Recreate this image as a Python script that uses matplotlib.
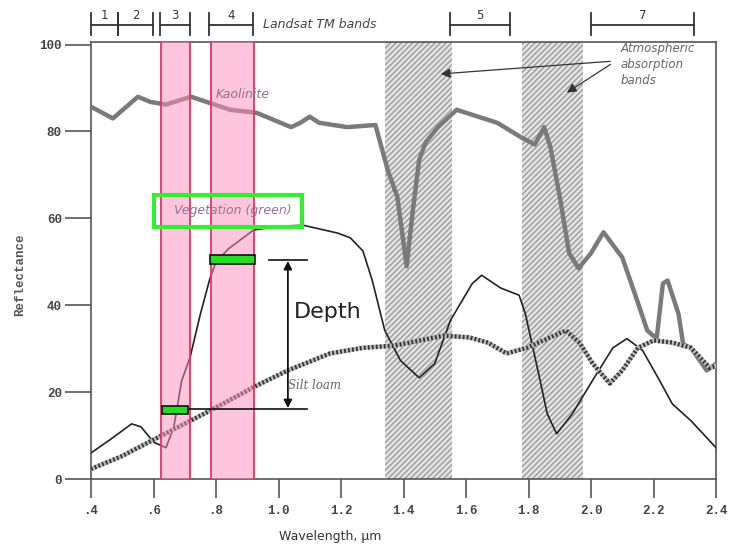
import matplotlib
matplotlib.use("Agg")
import matplotlib.pyplot as plt
from matplotlib.patches import Rectangle

# spectra (wavelength in um, reflectance in %)
kaol_x = [0.40, 0.47, 0.55, 0.59, 0.64, 0.72, 0.845, 0.93, 1.04, 1.07, 1.10, 1.13, 1.22, 1.31,
          1.35, 1.38, 1.395, 1.41, 1.43, 1.45, 1.47, 1.51, 1.57, 1.70, 1.78, 1.82, 1.85, 1.87,
          1.90, 1.93, 1.96, 2.00, 2.04, 2.10, 2.14, 2.18, 2.21, 2.23, 2.245, 2.28, 2.295,
          2.32, 2.37, 2.40]
kaol_y = [85.7, 83.0, 88.0, 86.8, 86.2, 88.0, 85.0, 84.3, 81.0, 82.0, 83.4, 82.0, 81.0, 81.5,
          71.0, 65.0, 57.0, 49.0, 62.0, 73.4, 77.4, 81.0, 85.0, 82.0, 78.5, 77.0, 81.0, 76.4,
          65.0, 52.0, 48.5, 52.0, 56.8, 51.0, 42.7, 34.2, 32.3, 45.0, 45.7, 38.0, 31.0,
          30.2, 25.0, 26.5]

veg_x = [0.40, 0.46, 0.53, 0.56, 0.60, 0.64, 0.665, 0.69, 0.717, 0.75, 0.78, 0.80, 0.84, 0.92,
         1.00, 1.08, 1.19, 1.23, 1.27, 1.30, 1.34, 1.39, 1.45, 1.50, 1.55, 1.62, 1.65, 1.71,
         1.77, 1.79, 1.83, 1.86, 1.89, 1.94, 2.01, 2.07, 2.115, 2.165, 2.22, 2.26, 2.32, 2.40]
veg_y = [6.0, 9.0, 12.7, 12.0, 8.5, 7.2, 12.0, 22.6, 28.0, 38.0, 46.0, 50.0, 53.0, 57.3,
         58.2, 58.4, 56.6, 55.5, 52.5, 45.7, 34.2, 27.3, 23.3, 26.6, 36.5, 45.0, 46.9, 44.0,
         42.3, 38.0, 25.0, 15.0, 10.4, 15.0, 23.3, 30.2, 32.3, 29.6, 22.6, 17.3, 13.4, 7.2]

silt_x = [0.40, 0.50, 0.58, 0.68, 0.78, 0.93, 1.03, 1.165, 1.27, 1.37, 1.53, 1.61, 1.67, 1.73,
          1.795, 1.86, 1.92, 1.965, 2.005, 2.06, 2.10, 2.15, 2.20, 2.26, 2.32, 2.38, 2.40]
silt_y = [2.3, 5.3, 8.3, 12.0, 15.7, 21.5, 25.0, 28.9, 30.2, 30.7, 33.0, 32.6, 31.4, 28.9,
          30.2, 32.3, 34.2, 31.2, 26.6, 22.0, 25.0, 30.2, 31.9, 31.4, 30.2, 25.6, 26.0]

# bands
tm_names = ["1", "2", "3", "4", "5", "7"]
tm_start = [0.40, 0.486, 0.62, 0.777, 1.55, 2.00]
tm_end = [0.486, 0.598, 0.717, 0.918, 1.74, 2.33]
pink_start = [0.624, 0.784]
pink_end = [0.717, 0.922]
atm_start = [1.34, 1.78]
atm_end = [1.555, 1.975]

xticks = [0.4, 0.6, 0.8, 1.0, 1.2, 1.4, 1.6, 1.8, 2.0, 2.2, 2.4]
xlabels = [".4", ".6", ".8", "1.0", "1.2", "1.4", "1.6", "1.8", "2.0", "2.2", "2.4"]
yticks = [0, 20, 40, 60, 80, 100]

fig = plt.figure(figsize=(7.34, 5.49), dpi=100)
ax = fig.add_axes([0.124, 0.1275, 0.8515, 0.796])
ax.set_xlim(0.4, 2.4)
ax.set_ylim(0, 100.6)

# atmospheric absorption (hatched)
for a, b in zip(atm_start, atm_end):
    ax.add_patch(Rectangle((a, 0), b - a, 100.6, facecolor="#e4e4e4", edgecolor="#9a9a9a",
                           hatch="//////", linewidth=0, zorder=1))

ax.plot(kaol_x, kaol_y, color="#7a7a7a", lw=3.2, zorder=3, solid_joinstyle="round")
ax.plot(veg_x, veg_y, color="#222222", lw=1.2, zorder=3)
ax.plot(silt_x, silt_y, color="#bbbbbb", lw=3.2, zorder=3)
ax.plot(silt_x, silt_y, color="#333333", lw=3.2, ls=(0, (0.4, 0.5)), zorder=3)

# TM bands 3 and 4 in pink, on top of the curves
for a, b in zip(pink_start, pink_end):
    ax.axvspan(a, b, facecolor="#ff8cbd", alpha=0.5, lw=0, zorder=4)
    ax.axvline(a, color="#e2336c", lw=1.3, zorder=4)
    ax.axvline(b, color="#e2336c", lw=1.3, zorder=4)

# depth markers
ax.add_patch(Rectangle((0.627, 15.0), 0.083, 1.7, facecolor="#22dd22", edgecolor="#111111",
                       lw=1.2, zorder=6))
ax.add_patch(Rectangle((0.78, 49.6), 0.145, 2.0, facecolor="#22dd22", edgecolor="#111111",
                       lw=1.2, zorder=6))
ax.plot([0.71, 1.09], [16.0, 16.0], color="#111111", lw=1.2, zorder=5)
ax.plot([0.97, 1.09], [50.4, 50.4], color="#111111", lw=1.2, zorder=5)
ax.annotate("", xy=(1.03, 16.3), xytext=(1.03, 50.2),
            arrowprops=dict(arrowstyle="<|-|>", color="#111111", lw=1.3,
                            mutation_scale=12, shrinkA=0, shrinkB=0), zorder=6)
ax.text(1.05, 38.5, "Depth", fontsize=16, color="#222222", va="center", zorder=6)

# green box round the vegetation label
ax.add_patch(Rectangle((0.60, 58.0), 0.475, 7.4, facecolor="none", edgecolor="#33ee33",
                       lw=3, zorder=6))
ax.text(0.665, 61.8, "Vegetation (green)", fontsize=9, style="italic", color="#8e7590",
        va="center", zorder=6)
ax.text(0.80, 88.5, "Kaolinite", fontsize=9, style="italic", color="#85758a",
        va="center", zorder=6)
ax.text(1.03, 21.5, "Silt loam", fontsize=8.5, style="italic", color="#666666",
        family="DejaVu Serif", va="center", zorder=6)

# absorption labels and arrows
ax.text(2.095, 95.5, "Atmospheric\nabsorption\nbands", fontsize=8.5, style="italic",
        color="#666666", va="center", linespacing=1.3, zorder=6)
ax.annotate("", xy=(1.51, 93.2), xytext=(2.07, 96.2),
            arrowprops=dict(arrowstyle="-|>", color="#333333", lw=0.9, mutation_scale=14), zorder=6)
ax.annotate("", xy=(1.915, 88.6), xytext=(2.07, 95.8),
            arrowprops=dict(arrowstyle="-|>", color="#333333", lw=0.9, mutation_scale=14), zorder=6)

# Landsat TM band brackets above the frame
for name, a, b in zip(tm_names, tm_start, tm_end):
    ax.plot([a, b], [104.6, 104.6], color="#333333", lw=1.3, clip_on=False)
    ax.plot([a, a], [102.2, 107.2], color="#333333", lw=1.3, clip_on=False)
    ax.plot([b, b], [102.2, 107.2], color="#333333", lw=1.3, clip_on=False)
    ax.text((a + b) / 2, 106.8, name, ha="center", va="center", fontsize=8.5,
            color="#333333", clip_on=False)
ax.text(0.95, 104.6, "Landsat TM bands", fontsize=9, style="italic", color="#444444",
        va="center", clip_on=False)

for s in ax.spines.values():
    s.set_color("#555555")
    s.set_linewidth(1.2)

ax.set_xticks(xticks)
ax.set_xticklabels(xlabels)
ax.set_yticks(yticks)
ax.tick_params(axis="both", direction="out", color="#555555", width=1.2,
               labelsize=9, labelcolor="#444444")
ax.tick_params(axis="x", length=14, pad=5)
ax.tick_params(axis="y", length=19, pad=2)
for lab in ax.get_xticklabels() + ax.get_yticklabels():
    lab.set_family("Liberation Mono")
    lab.set_weight("bold")

fig.text(0.027, 0.50, "Reflectance", rotation=90, ha="center", va="center", fontsize=9,
         color="#555555", family="Liberation Mono", weight="bold")
fig.text(0.45, 0.022, "Wavelength, \u00b5m", ha="center", va="center", fontsize=9,
         color="#333333")

fig.savefig("out.png", dpi=100)
